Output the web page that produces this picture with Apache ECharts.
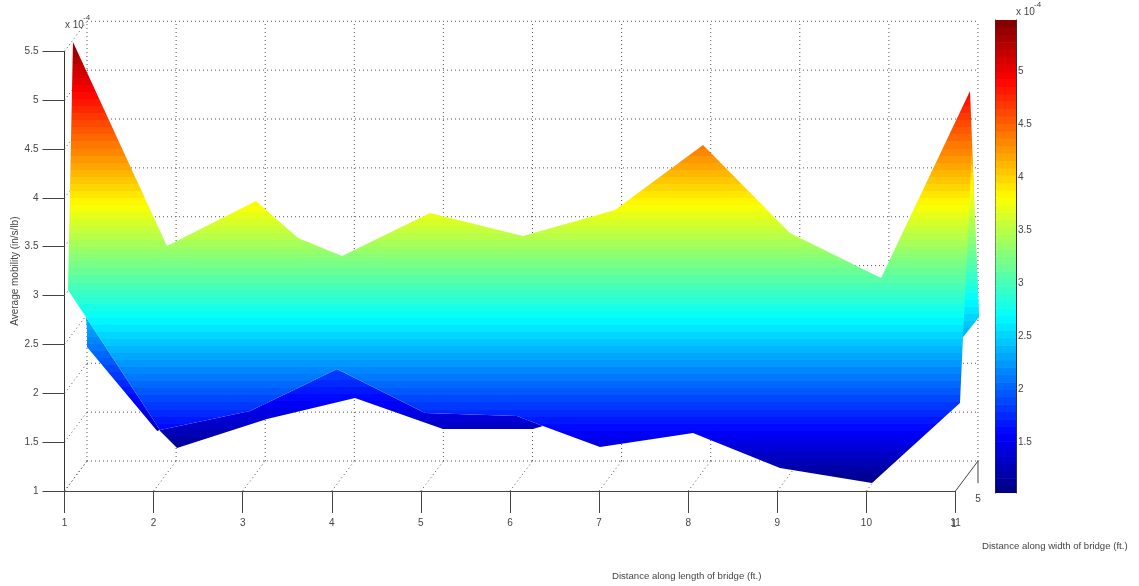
<!DOCTYPE html>
<html>
<head>
<meta charset="utf-8">
<style>html,body{margin:0;padding:0;background:#fff}#c{width:1139px;height:586px}</style>
<script src="https://cdn.jsdelivr.net/npm/echarts@6/dist/echarts.min.js"></script>
</head>
<body>
<div id="c"></div>
<script>
// ---- Data (x: length ft, y: mobility x 10^-4) ----
const lengthTicks = [1, 2, 3, 4, 5, 6, 7, 8, 9, 10, 11];
const mobilityTicks = [1, 1.5, 2, 2.5, 3, 3.5, 4, 4.5, 5, 5.5];
const colorbarTicks = [1.5, 2, 2.5, 3, 3.5, 4, 4.5, 5];
const widthTickLabels = ['1', '5'];
const colorMin = 1.02, colorMax = 5.48;
const surfaceColorMin = 1.04, surfaceColorMax = 5.66;
const depthX = 0.2525, depthY = 0.307;

const mainSurface = [
  [1.095,5.596],[2.150,3.508],[3.149,3.968],[3.621,3.590],[4.114,3.405],[5.102,3.845],
  [6.146,3.610],[7.178,3.876],[8.166,4.541],[9.142,3.641],[10.164,3.180],[11.163,5.094],
  [11.264,2.781],[11.084,2.576],[11.05,1.901],[10.063,1.082],[9.030,1.235],
  [8.054,1.594],[7.010,1.450],[6.370,1.665],[6.079,1.768],[5.046,1.798],[4.058,2.249],
  [3.643,2.064],[3.082,1.819],[2.072,1.624],[1.241,2.781],[1.039,3.057]
];
const lowerFold = [
  [2.072,1.624],[3.082,1.819],[3.643,2.064],[4.058,2.249],[5.046,1.798],[6.079,1.768],
  [6.370,1.665],[6.258,1.635],[5.752,1.635],[5.248,1.635],[4.260,1.952],[3.273,1.737],
  [2.263,1.440],[2.072,1.614]
];
const leftFold = [[1.241,2.781],[2.072,1.624],[2.040,1.614],[1.253,2.474],[1.253,2.638]];
const rightFold = [[11.185,4.49],[11.264,2.781],[11.084,2.576]];

// ---- MATLAB jet colormap, 64 levels ----
function jet(t) {
  const f = v => Math.round(255 * Math.max(0, Math.min(1, v)));
  const r = 1.5 - Math.abs(4 * t - 3), g = 1.5 - Math.abs(4 * t - 2), b = 1.5 - Math.abs(4 * t - 1);
  return 'rgb(' + f(r) + ',' + f(g) + ',' + f(b) + ')';
}
const levelCount = 64;
const levelIndex = Array.from({length: levelCount}, (_, i) => i);
const levelColor = i => jet((i + 0.5) / levelCount);
const levelStops = [];
levelIndex.forEach(i => {
  levelStops.push({offset: i / levelCount, color: levelColor(i)});
  levelStops.push({offset: (i + 1) / levelCount, color: levelColor(i)});
});

const chart = echarts.init(document.getElementById('c'), null, {renderer: 'canvas'});

// filled facet coloured by height; colourShift moves the colour scale for facets lying further back
function facet(points, colourShift) {
  return {
    type: 'custom', xAxisIndex: 0, yAxisIndex: 0, coordinateSystem: 'cartesian2d', z: 3,
    clip: false, silent: true, data: points,
    renderItem(params, api) {
      if (params.dataIndex !== 0) return null;
      const p0 = api.coord([1, surfaceColorMin + colourShift]);
      const p1 = api.coord([1, surfaceColorMax + colourShift]);
      return {
        type: 'polygon',
        shape: {points: points.map(p => api.coord(p))},
        style: {
          fill: new echarts.graphic.LinearGradient(0, p0[1], 0, p1[1], levelStops, true),
          stroke: null
        }
      };
    }
  };
}

// guide lines of the pseudo-3D box
const gridSegments = [];
mobilityTicks.forEach(z => {
  gridSegments.push([1 + depthX, z + depthY, 11 + depthX, z + depthY]);
  gridSegments.push([1, z, 1 + depthX, z + depthY]);
});
lengthTicks.forEach(x => {
  gridSegments.push([x + depthX, 1 + depthY, x + depthX, 5.5 + depthY]);
  if (x < 11) gridSegments.push([x, 1, x + depthX, 1 + depthY]);
});

function segments(data, style, z) {
  return {
    type: 'custom', xAxisIndex: 0, yAxisIndex: 0, z: z, clip: false, silent: true,
    encode: {x: [0, 2], y: [1, 3]}, data: data,
    renderItem(params, api) {
      const a = api.coord([api.value(0), api.value(1)]);
      const b = api.coord([api.value(2), api.value(3)]);
      return {type: 'line', shape: {x1: a[0], y1: a[1], x2: b[0], y2: b[1]}, style: style};
    }
  };
}

const tickText = {fontFamily: '"Liberation Sans", Arial, sans-serif', fontSize: 10, fill: '#444'};
const titleText = Object.assign({}, tickText, {fontSize: 9.6});

chart.setOption({
  animation: false,
  backgroundColor: '#fff',
  textStyle: {fontFamily: '"Liberation Sans", Arial, sans-serif'},
  grid: [
    {left: 64.5, top: 51.3, width: 891, height: 439.7, outerBoundsMode: 'none', containLabel: false},
    {left: 995.5, top: 20, width: 20.5, height: 473, outerBoundsMode: 'none', containLabel: false}
  ],
  xAxis: [
    {type: 'value', gridIndex: 0, min: 1, max: 11, interval: 1, position: 'bottom',
     axisLine: {show: true, onZero: false, lineStyle: {color: '#444'}},
     axisTick: {show: true, length: 22, lineStyle: {color: '#444'}},
     axisLabel: {show: true, margin: 27, fontSize: 10, color: '#444', showMinLabel: true, showMaxLabel: true},
     splitLine: {show: false}},
    {type: 'value', gridIndex: 1, min: 0, max: 1, position: 'top',
     axisLine: {show: true, onZero: false, lineStyle: {color: '#333'}},
     axisTick: {show: false}, axisLabel: {show: false}, splitLine: {show: false}}
  ],
  yAxis: [
    {type: 'value', gridIndex: 0, min: 1, max: 5.5, interval: 0.5, position: 'left',
     name: 'Average mobility (in/s/lb)', nameLocation: 'middle', nameGap: 44, nameRotate: 90,
     nameMoveOverlap: false,
     nameTextStyle: {fontSize: 10, color: '#444'},
     axisLine: {show: true, onZero: false, lineStyle: {color: '#333'}},
     axisTick: {show: true, length: 22, lineStyle: {color: '#444'}},
     axisLabel: {show: true, margin: 26, fontSize: 10, color: '#444', showMinLabel: true, showMaxLabel: true},
     splitLine: {show: false}},
    {type: 'value', gridIndex: 1, min: colorMin, max: colorMax, position: 'right',
     axisLine: {show: true, onZero: false, lineStyle: {color: '#333'}},
     axisTick: {show: true, inside: true, length: 4, customValues: colorbarTicks, lineStyle: {color: '#333'}},
     axisLabel: {show: true, margin: 2, fontSize: 10, color: '#444', customValues: colorbarTicks},
     splitLine: {show: false}},
    {type: 'value', gridIndex: 1, min: colorMin, max: colorMax, position: 'left',
     axisLine: {show: true, onZero: false, lineStyle: {color: '#333'}},
     axisTick: {show: true, inside: true, length: 4, customValues: colorbarTicks, lineStyle: {color: '#333'}},
     axisLabel: {show: false}, splitLine: {show: false}}
  ],
  series: [
    segments(gridSegments, {stroke: '#555', lineWidth: 1, lineDash: [1, 3]}, 1),
    facet(leftFold, 0.307),
    facet(lowerFold, 0.307),
    facet(mainSurface, 0),
    facet(rightFold, 0.18),
    // solid depth axis at the right-hand floor corner
    segments([[11, 1, 11 + depthX, 1 + depthY], [11 + depthX, 1 + depthY, 11 + depthX, 1.08]],
      {stroke: '#444', lineWidth: 1}, 4),
    // the depth-axis tick labels
    {
      type: 'custom', xAxisIndex: 0, yAxisIndex: 0, z: 4, clip: false, silent: true,
      data: [[11, 1, widthTickLabels[0]], [11 + depthX, 1, widthTickLabels[1]]],
      renderItem(params, api) {
        const p = api.coord([api.value(0), api.value(1)]);
        const first = params.dataIndex === 0;
        return {
          type: 'text',
          x: p[0] + (first ? -1.5 : 0), y: p[1] + (first ? 33 : 8),
          style: Object.assign({text: first ? widthTickLabels[0] : widthTickLabels[1],
            textAlign: 'center', textVerticalAlign: 'middle'}, tickText)
        };
      }
    },
    // colour bar
    {
      type: 'custom', xAxisIndex: 1, yAxisIndex: 1, z: 1, silent: true, clip: true,
      data: levelIndex,
      renderItem(params, api) {
        const i = params.dataIndex;
        const step = (colorMax - colorMin) / levelCount;
        const a = api.coord([0, colorMin + step * (i + 1)]);
        const b = api.coord([1, colorMin + step * i]);
        return {type: 'rect',
          shape: {x: a[0], y: a[1], width: b[0] - a[0], height: b[1] - a[1] + 0.6},
          style: {fill: levelColor(i), stroke: null}};
      }
    }
  ],
  graphic: [
    {type: 'text', x: 65, y: 20, style: Object.assign({text: 'x 10'}, tickText), z: 10},
    {type: 'text', x: 83, y: 14, style: Object.assign({text: '-4'}, tickText, {fontSize: 8}), z: 10},
    {type: 'text', x: 1016, y: 7, style: Object.assign({text: 'x 10'}, tickText), z: 10},
    {type: 'text', x: 1034, y: 1, style: Object.assign({text: '-4'}, tickText, {fontSize: 8}), z: 10},
    {type: 'text', x: 612, y: 571, style: Object.assign({text: 'Distance along length of bridge (ft.)'}, titleText), z: 10},
    {type: 'text', x: 982, y: 541, style: Object.assign({text: 'Distance along width of bridge (ft.)'}, titleText), z: 10}
  ]
});
</script>
</body>
</html>
